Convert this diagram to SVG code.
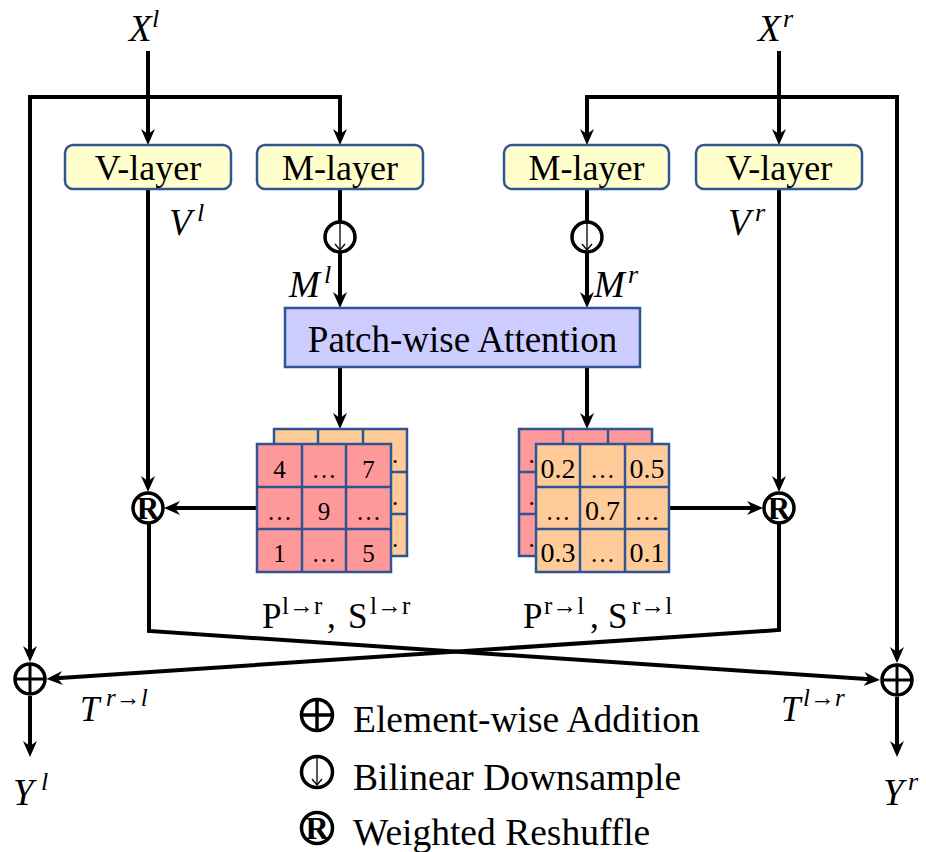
<svg xmlns="http://www.w3.org/2000/svg" width="926" height="852" viewBox="0 0 926 852">
  <style>
    .serif { font-family: "Liberation Serif", "Times New Roman", serif; fill: #000; }
    .math { font-family: "Liberation Serif", "Times New Roman", serif; font-style: italic; fill: #000; }
    .box-y { fill: #FFFFCC; stroke: #2F5597; stroke-width: 2.5; }
    .box-b { fill: #CCCCFF; stroke: #2F5597; stroke-width: 2.5; }
    .lbl { font-size: 36px; text-anchor: middle; }
    .wire { fill: none; stroke: #000; stroke-width: 4; stroke-linejoin: miter; }
    .op { fill: #fff; stroke: #000; stroke-width: 3.5; }
    .pink { fill: #FF9999; stroke: #2F5597; stroke-width: 2.5; }
    .orange { fill: #FFCC99; stroke: #2F5597; stroke-width: 2.5; }
    .cell { font-size: 25px; text-anchor: middle; }
    .dec { font-size: 28px; text-anchor: middle; }
    .leg { font-size: 37.5px; }
    .rmark { font-size: 31px; font-weight: bold; text-anchor: middle; }
  </style>
  <defs>
    <marker id="arrow" viewBox="0 0 16 16" markerUnits="userSpaceOnUse" markerWidth="16" markerHeight="16" refX="10" refY="8" orient="auto-start-reverse">
      <path d="M0,1 L16,8 L0,15 L5,8 z" fill="#000"/>
    </marker>
    <g id="down">
      <line x1="0" y1="-14" x2="0" y2="13" stroke="#000" stroke-width="1.3"/>
      <polyline points="-5,7 0,13 5,7" fill="none" stroke="#000" stroke-width="1.3"/>
    </g>
  </defs>

  <!-- connectors -->
  <g id="connectors">
    <path class="wire" d="M148,51 V139" marker-end="url(#arrow)"/>
    <path class="wire" d="M340,139 V97 H30 V656" marker-start="url(#arrow)" marker-end="url(#arrow)"/>
    <path class="wire" d="M779,51 V139" marker-end="url(#arrow)"/>
    <path class="wire" d="M587,139 V97 H897 V657" marker-start="url(#arrow)" marker-end="url(#arrow)"/>

    <path class="wire" d="M148,189 V486" marker-end="url(#arrow)"/>
    <path class="wire" d="M779,189 V486" marker-end="url(#arrow)"/>

    <path class="wire" d="M340,189 V222"/>
    <path class="wire" d="M340,252 V302" marker-end="url(#arrow)"/>
    <path class="wire" d="M587,189 V222"/>
    <path class="wire" d="M587,252 V302" marker-end="url(#arrow)"/>

    <path class="wire" d="M340,367 V423" marker-end="url(#arrow)"/>
    <path class="wire" d="M587,367 V423" marker-end="url(#arrow)"/>

    <path class="wire" d="M257,508 H170" marker-end="url(#arrow)"/>
    <path class="wire" d="M669,508 H757" marker-end="url(#arrow)"/>

    <path class="wire" d="M149,524 V631 L874,679.6" marker-end="url(#arrow)"/>
    <path class="wire" d="M779,524 V630 L52.5,678.6" marker-end="url(#arrow)"/>

    <path class="wire" d="M30,696 V751" marker-end="url(#arrow)"/>
    <path class="wire" d="M897,697 V751" marker-end="url(#arrow)"/>
  </g>

  <!-- layers -->
  <g id="v-layer-l">
    <rect class="box-y" x="65" y="145" width="166" height="44" rx="8"/>
    <text class="serif lbl" x="148" y="180">V-layer</text>
  </g>
  <g id="m-layer-l">
    <rect class="box-y" x="257" y="145" width="166" height="44" rx="8"/>
    <text class="serif lbl" x="340" y="180">M-layer</text>
  </g>
  <g id="m-layer-r">
    <rect class="box-y" x="504" y="145" width="165" height="44" rx="8"/>
    <text class="serif lbl" x="586.5" y="180">M-layer</text>
  </g>
  <g id="v-layer-r">
    <rect class="box-y" x="696" y="145" width="166" height="44" rx="8"/>
    <text class="serif lbl" x="779" y="180">V-layer</text>
  </g>

  <g id="attention">
    <rect class="box-b" x="285" y="308" width="355" height="59"/>
    <text class="serif lbl" x="462.5" y="352" style="font-size:37px">Patch-wise Attention</text>
  </g>

  <!-- downsample operators -->
  <g id="down-l">
    <circle class="op" cx="340" cy="237" r="15"/>
    <use href="#down" x="340" y="237"/>
  </g>
  <g id="down-r">
    <circle class="op" cx="587" cy="237" r="15"/>
    <use href="#down" x="587" y="237"/>
  </g>

  <!-- reshuffle operators -->
  <g id="reshuffle-l">
    <circle class="op" cx="148" cy="508" r="15"/>
    <text class="serif rmark" x="148" y="518.5">R</text>
  </g>
  <g id="reshuffle-r">
    <circle class="op" cx="779" cy="508" r="15"/>
    <text class="serif rmark" x="779" y="518.5">R</text>
  </g>

  <!-- addition operators -->
  <g id="add-l">
    <circle class="op" cx="30" cy="679" r="15"/>
    <path d="M15,679 H45 M30,664 V694" stroke="#000" stroke-width="3"/>
  </g>
  <g id="add-r">
    <circle class="op" cx="897" cy="680" r="15"/>
    <path d="M882,680 H912 M897,665 V695" stroke="#000" stroke-width="3"/>
  </g>

  <!-- left matrices: S (back) and P (front) -->
  <g id="matrix-l">
    <rect class="orange" x="274" y="429" width="133" height="127"/>
    <path d="M318,429 V556 M363,429 V556 M274,472 H407 M274,514 H407" stroke="#2F5597" stroke-width="2.5"/>
    <text class="serif cell" x="395" y="463">.</text>
    <text class="serif cell" x="395" y="505">.</text>
    <text class="serif cell" x="395" y="547">.</text>
    <rect class="pink" x="257" y="444" width="134" height="128"/>
    <path d="M302,444 V572 M346,444 V572 M257,487 H391 M257,529 H391" stroke="#2F5597" stroke-width="2.5"/>
    <text class="serif cell" x="279.5" y="478">4</text>
    <text class="serif cell" x="324" y="478">…</text>
    <text class="serif cell" x="368.5" y="478">7</text>
    <text class="serif cell" x="279.5" y="520">…</text>
    <text class="serif cell" x="324" y="520">9</text>
    <text class="serif cell" x="368.5" y="520">…</text>
    <text class="serif cell" x="279.5" y="562">1</text>
    <text class="serif cell" x="324" y="562">…</text>
    <text class="serif cell" x="368.5" y="562">5</text>
  </g>

  <!-- right matrices: P (back) and S (front) -->
  <g id="matrix-r">
    <rect class="pink" x="519" y="429" width="133" height="127"/>
    <path d="M563,429 V556 M608,429 V556 M519,472 H652 M519,514 H652" stroke="#2F5597" stroke-width="2.5"/>
    <text class="serif cell" x="531.5" y="463">.</text>
    <text class="serif cell" x="531.5" y="505">.</text>
    <text class="serif cell" x="531.5" y="547">.</text>
    <rect class="orange" x="536" y="444" width="133" height="128"/>
    <path d="M580,444 V572 M625,444 V572 M536,487 H669 M536,529 H669" stroke="#2F5597" stroke-width="2.5"/>
    <text class="serif dec" x="558" y="478">0.2</text>
    <text class="serif cell" x="602.5" y="478">…</text>
    <text class="serif dec" x="647" y="478">0.5</text>
    <text class="serif cell" x="558" y="520">…</text>
    <text class="serif dec" x="602.5" y="520">0.7</text>
    <text class="serif cell" x="647" y="520">…</text>
    <text class="serif dec" x="558" y="562">0.3</text>
    <text class="serif cell" x="602.5" y="562">…</text>
    <text class="serif dec" x="647" y="562">0.1</text>
  </g>

  <!-- variable labels -->
  <g id="labels">
    <text class="math" x="129" y="41" font-size="37">X</text>
    <text class="math" x="152" y="27" font-size="26">l</text>
    <text class="math" x="758" y="41" font-size="37">X</text>
    <text class="math" x="783" y="27" font-size="26">r</text>

    <text class="math" x="169" y="235" font-size="37">V</text>
    <text class="math" x="197" y="221" font-size="26">l</text>
    <text class="math" x="728" y="235" font-size="37">V</text>
    <text class="math" x="755" y="221" font-size="26">r</text>

    <text class="math" x="289" y="297" font-size="37">M</text>
    <text class="math" x="324" y="283" font-size="26">l</text>
    <text class="math" x="594" y="297" font-size="37">M</text>
    <text class="math" x="628" y="283" font-size="26">r</text>

    <text class="serif" x="262" y="628" font-size="35">P</text>
    <text class="serif" x="282" y="614" font-size="25">l→r</text>
    <text class="serif" x="327" y="628" font-size="35">,</text>
    <text class="serif" x="348" y="628" font-size="35">S</text>
    <text class="serif" x="370" y="614" font-size="25">l→r</text>

    <text class="serif" x="523" y="628" font-size="35">P</text>
    <text class="serif" x="544" y="614" font-size="25">r→l</text>
    <text class="serif" x="590" y="628" font-size="35">,</text>
    <text class="serif" x="608" y="628" font-size="35">S</text>
    <text class="serif" x="632" y="614" font-size="25">r→l</text>

    <text class="math" x="80" y="721" font-size="35">T</text>
    <text class="math" x="106" y="706" font-size="25">r→l</text>
    <text class="math" x="781" y="721" font-size="35">T</text>
    <text class="math" x="803" y="706" font-size="25">l→r</text>

    <text class="math" x="13" y="805" font-size="37">Y</text>
    <text class="math" x="41" y="790" font-size="26">l</text>
    <text class="math" x="883" y="805" font-size="37">Y</text>
    <text class="math" x="908" y="790" font-size="26">r</text>
  </g>

  <!-- legend -->
  <g id="legend">
    <circle class="op" cx="317" cy="715" r="15.5" stroke-width="4"/>
    <path d="M301.5,715 H332.5 M317,699.5 V730.5" stroke="#000" stroke-width="3.5"/>
    <text class="serif leg" x="353" y="732">Element-wise Addition</text>

    <circle class="op" cx="317" cy="772" r="15.5"/>
    <use href="#down" x="317" y="772"/>
    <text class="serif leg" x="353" y="790">Bilinear Downsample</text>

    <circle class="op" cx="317" cy="828" r="15.5" stroke-width="4"/>
    <text class="serif rmark" x="317" y="839" style="font-size:32px">R</text>
    <text class="serif leg" x="353" y="845">Weighted Reshuffle</text>
  </g>
</svg>
